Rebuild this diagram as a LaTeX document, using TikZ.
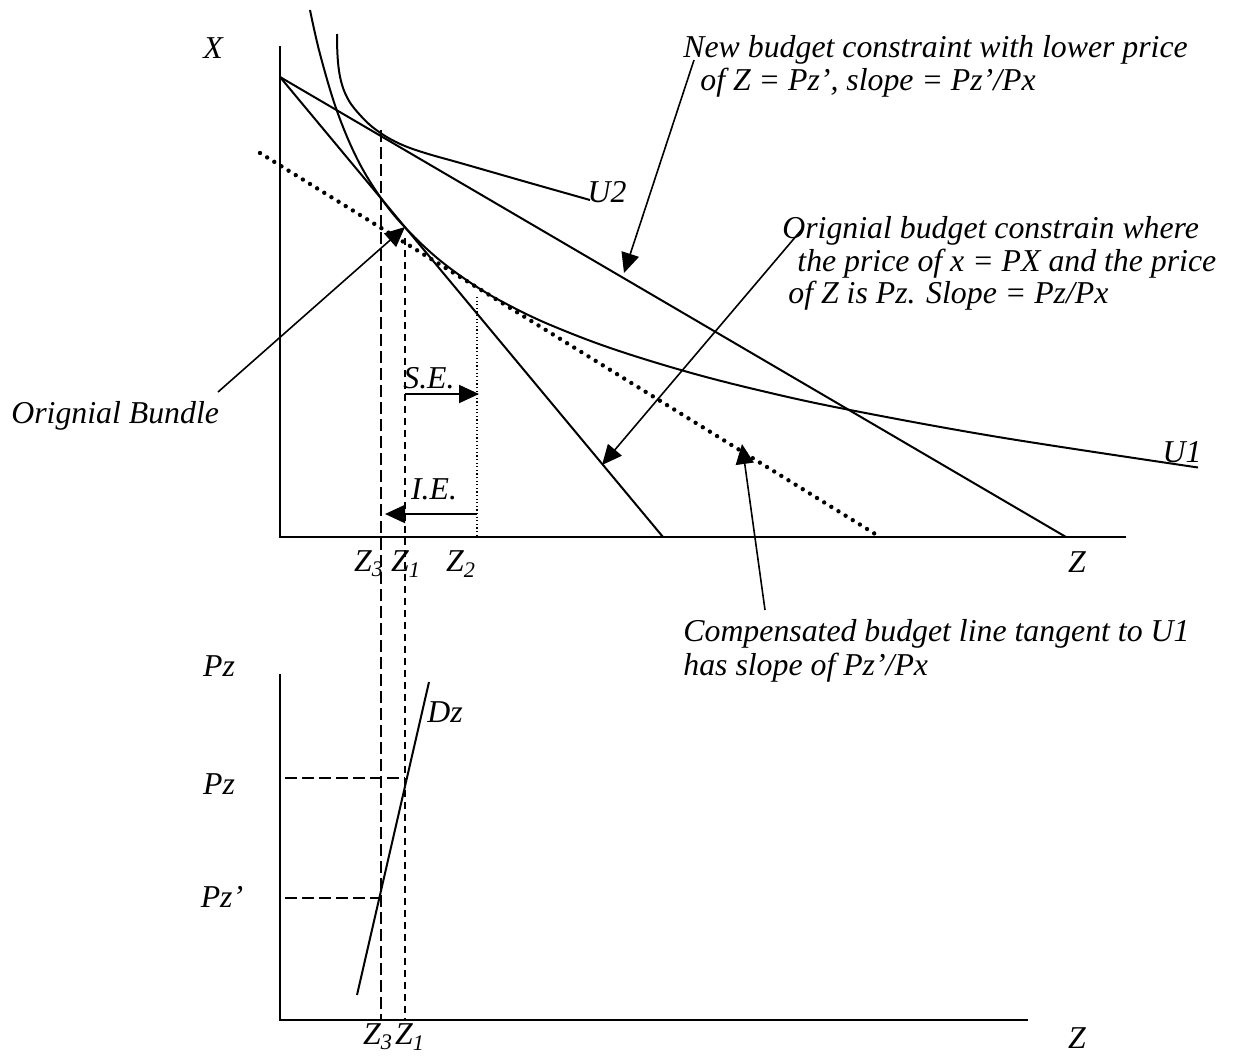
\documentclass[tikz,border=0pt]{standalone}
\usepackage{fontspec}
\setmainfont{Liberation Serif}
\usetikzlibrary{arrows.meta}
\begin{document}
\begin{tikzpicture}[x=0.5pt,y=-0.5pt,
  lbl/.style={font=\fontsize{15.9}{16.3}\selectfont\itshape, inner sep=0pt},
  blk/.style={lbl, align=left, anchor=north west},
  curve/.style={line width=1pt},
  axis/.style={line width=1.2pt},
  ptr/.style={line width=0.8pt, -{Triangle[length=10pt,width=9pt]}},
  dotline/.style={line width=2.2pt, line cap=round, dash pattern=on 0pt off 4.2pt},
  fine/.style={line width=0.6pt, dash pattern=on 0.6pt off 1.2pt},
  longdash/.style={line width=0.9pt, dash pattern=on 6pt off 2.5pt},
  shortdash/.style={line width=0.9pt, dash pattern=on 3.5pt off 2.5pt}]
\useasboundingbox (0,0) rectangle (1235,1055);

% ---------- top graph ----------
\coordinate (O1) at (280,537);
\coordinate (Ytop) at (280,46);
\coordinate (Xend) at (1126,537);
\coordinate (I) at (280,77);
\coordinate (OB) at (663,537);
\coordinate (NB) at (1066,537);
\coordinate (D1) at (260,153);
\coordinate (D2) at (880,537);
\draw[axis] (Ytop) -- (O1) -- (Xend);
\draw[curve] (I) -- (OB);
\draw[curve] (I) -- (NB);
\draw[dotline] (D1) -- (D2);

% U1
\draw[curve] plot[smooth, tension=0.6] coordinates {(310,10) (320,54) (337,111) (358,160.5) (382,199.5) (407,229.5) (440,260.4) (477,287) (510,305.8) (550,324.8) (610,347.9) (685,371.2) (760,390.5) (847,409.4) (1000,437.3) (1198,467.5)};
% U2
\draw[curve] plot[smooth, tension=0.6] coordinates {(337,34) (337.3,51) (338.5,67) (341,81) (345,93) (351,104) (360,115) (370,125) (382,134) (395,141.5) (410,148) (430,154.5) (455,161.5) (483,169.5) (530,183) (590,200)};

% vertical guides
\coordinate (Z3t) at (381,130);
\coordinate (Z3b) at (381,1020);
\coordinate (Z1t) at (405,238);
\coordinate (Z1b) at (405,1020);
\coordinate (Z2t) at (477,297);
\coordinate (Z2b) at (477,537);
\draw[longdash] (Z3t) -- (Z3b);
\draw[shortdash] (Z1t) -- (Z1b);
\draw[fine] (Z2t) -- (Z2b);

% S.E. and I.E. arrows
\coordinate (SEa) at (405,394);
\coordinate (SEb) at (479,394);
\coordinate (IEa) at (477,514);
\coordinate (IEb) at (385,514);
\draw[ptr, line width=1pt] (SEa) -- (SEb);
\draw[ptr, line width=1pt] (IEa) -- (IEb);
\node[lbl] (se) at (429,378) {S.E.};
\node[lbl] (ie) at (434,489) {I.E.};

% labels
\node[lbl] (xl) at (213,48) {X};
\node[lbl] (zl) at (1077,562) {Z};
\node[lbl] (u2) at (607,192) {U2};
\node[lbl] (u1) at (1182,452) {U1};
\node[lbl] (z3) at (369,564) {Z\textsubscript{3}};
\node[lbl] (z1) at (406,564) {Z\textsubscript{1}};
\node[lbl] (z2) at (461,564) {Z\textsubscript{2}};

% annotation texts
\node[blk] (tnew) at (683,35) {New budget constraint with lower price\\\hspace*{8.5pt}of Z = Pz’, slope = Pz’/Px};
\node[blk] (torig) at (782,216) {Orignial budget constrain where\\\hspace*{7.5pt}the price of x = PX and the price\\\hspace*{3pt}of Z is Pz. Slope = Pz/Px};
\node[blk, font=\fontsize{15.9}{16.8}\selectfont\itshape] (tcomp) at (683,619) {Compensated budget line tangent to U1\\has slope of Pz’/Px};
\node[lbl, anchor=base west] (tbund) at (11,423) {Orignial Bundle};

% pointer arrows
\coordinate (pn0) at (694,60);
\coordinate (pn1) at (624,273);
\coordinate (po0) at (803,228);
\coordinate (po1) at (602,465);
\coordinate (pc0) at (765,610);
\coordinate (pc1) at (742,444);
\coordinate (pb0) at (218,392);
\coordinate (pb1) at (405,227);
\draw[ptr] (pn0) -- (pn1);
\draw[ptr] (po0) -- (po1);
\draw[ptr] (pc0) -- (pc1);
\draw[ptr] (pb0) -- (pb1);

% ---------- lower graph ----------
\coordinate (O2) at (280,1020);
\coordinate (Y2top) at (280,674);
\coordinate (X2end) at (1028,1020);
\draw[axis] (Y2top) -- (O2) -- (X2end);
\coordinate (Dza) at (357,995);
\coordinate (Dzb) at (429,682);
\draw[curve] (Dza) -- (Dzb);
\coordinate (hP1) at (285,778);
\coordinate (hP1e) at (405,778);
\coordinate (hP2) at (285,898);
\coordinate (hP2e) at (381,898);
\draw[longdash] (hP1) -- (hP1e);
\draw[longdash] (hP2) -- (hP2e);

\node[lbl] (pzt) at (219,666) {Pz};
\node[lbl] (dz) at (445,712) {Dz};
\node[lbl] (pzm) at (219,784) {Pz};
\node[lbl] (pzp) at (222,897) {Pz’};
\node[lbl] (bz3) at (378,1037) {Z\textsubscript{3}};
\node[lbl] (bz1) at (410,1037) {Z\textsubscript{1}};
\node[lbl] (bz) at (1077,1038) {Z};
\end{tikzpicture}
\end{document}
